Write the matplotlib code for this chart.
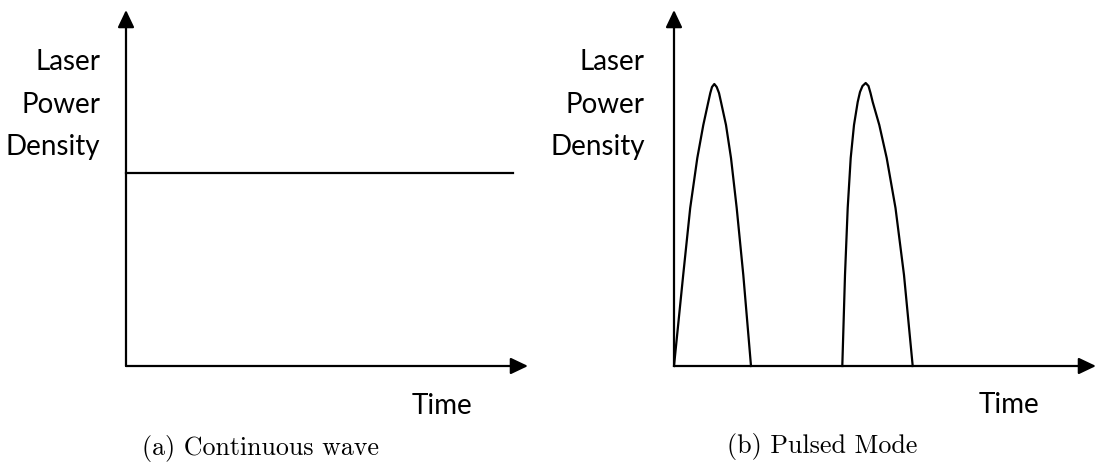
import matplotlib
matplotlib.use("Agg")
import matplotlib.pyplot as plt

# time / power in arbitrary units (1 unit ~ 10 px)
cw_time = [0.0, 38.7]
cw_power = [19.3, 19.3]

pulse1_t = [0.0, 0.92, 1.62, 2.33, 2.93, 3.43, 3.63, 3.8, 4.03, 4.27, 4.5, 4.7, 5.2, 5.7, 6.27, 6.93, 7.7]
pulse1_p = [0.0, 9.1, 15.8, 20.8, 24.1, 26.4, 27.3, 27.9, 28.2, 27.9, 27.3, 26.4, 24.1, 20.8, 15.8, 9.1, 0.0]
pulse2_t = [16.83, 17.1, 17.37, 17.67, 18.0, 18.37, 18.6, 18.85, 19.17, 19.45, 19.65, 19.87, 20.53, 21.27, 22.15, 23.0, 23.87]
pulse2_p = [0.0, 9.1, 15.8, 20.8, 24.1, 26.4, 27.4, 28.0, 28.3, 28.0, 27.3, 26.4, 24.1, 20.8, 15.8, 9.1, 0.0]

ylabel_lines = ["Laser", "Power", "Density"]
ylabel_pos = [30.4, 26.1, 21.9]
xlabel = "Time"
captions = ["(a) Continuous wave", "(b) Pulsed Mode"]

W, H = 1096, 466
fig = plt.figure(figsize=(W / 100, H / 100), dpi=100)

def panel(x0, x1, lab_x):
    # x0 = origin pixel, x1 = arrow tip pixel
    ax = fig.add_axes([x0 / W, (H - 366) / H, (x1 - x0) / W, 356 / H])
    xmax = (x1 - x0) / 10
    ax.set_xlim(0, xmax)
    ax.set_ylim(0, 35.6)
    ax.axis('off')
    arr = dict(arrowstyle='-|>,head_length=1.05,head_width=0.5', color='black',
               lw=1.6, shrinkA=0, shrinkB=0)
    ax.annotate('', xy=(xmax, 0), xytext=(0, 0), arrowprops=arr, annotation_clip=False)
    ax.annotate('', xy=(0, 35.6), xytext=(0, 0), arrowprops=arr, annotation_clip=False)
    for s, y in zip(ylabel_lines, ylabel_pos):
        ax.text(lab_x, y, s, ha='right', va='center', fontsize=20, family='Lato')
    return ax

ax1 = panel(126, 528, -2.6)
ax1.plot(cw_time, cw_power, color='black', lw=1.6, clip_on=False)
ax1.text(31.6, -4.0, xlabel, ha='center', va='center', fontsize=20, family='Lato')

ax2 = panel(674, 1096, -2.9)
ax2.plot(pulse1_t, pulse1_p, color='black', lw=1.6, clip_on=False, solid_joinstyle='round')
ax2.plot(pulse2_t, pulse2_p, color='black', lw=1.6, clip_on=False, solid_joinstyle='round')
ax2.text(33.5, -3.9, xlabel, ha='center', va='center', fontsize=20, family='Lato')

fig.text(261 / W, 1 - 448 / H, captions[0], ha='center', va='center',
         fontsize=18.7, family='cmr10')
fig.text(822 / W, 1 - 447 / H, captions[1], ha='center', va='center',
         fontsize=18.7, family='cmr10')

fig.savefig('out.png', dpi=100)
